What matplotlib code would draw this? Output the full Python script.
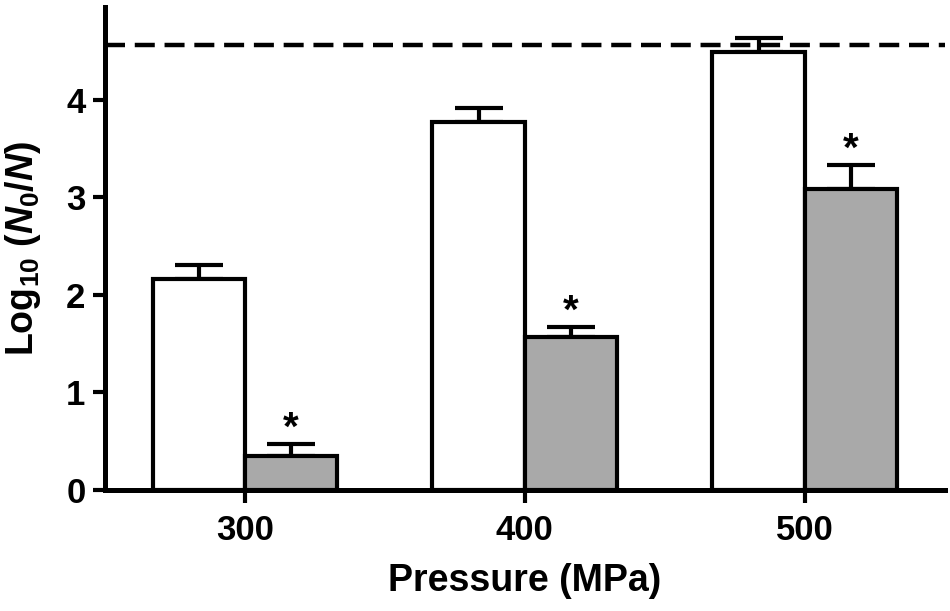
import matplotlib
matplotlib.use("Agg")
import matplotlib.pyplot as plt
import numpy as np

# data
pressures = ["300", "400", "500"]
control_vals = [2.16, 3.77, 4.485]
control_err = [0.15, 0.15, 0.145]
treated_vals = [0.35, 1.57, 3.08]
treated_err = [0.12, 0.105, 0.25]
limit_line = 4.56

plt.rcParams['font.family'] = ['Liberation Sans', 'DejaVu Sans']
plt.rcParams['font.weight'] = 'bold'
plt.rcParams['mathtext.fontset'] = 'custom'
plt.rcParams['mathtext.rm'] = 'Liberation Sans:bold'
plt.rcParams['mathtext.it'] = 'Liberation Sans:bold:italic'
plt.rcParams['mathtext.bf'] = 'Liberation Sans:bold'

fig = plt.figure(figsize=(9.5, 6.11), dpi=100)
ax = fig.add_axes([0.1105, 0.198, 0.884, 0.7905])

x = np.arange(len(pressures))
w = 0.33

ax.bar(x - w / 2, control_vals, w, color='white', edgecolor='black', linewidth=3, zorder=2)
ax.bar(x + w / 2, treated_vals, w, color='#a9a9a9', edgecolor='black', linewidth=3, zorder=2)

ax.errorbar(x - w / 2, control_vals, yerr=[np.zeros(3), control_err], fmt='none',
            ecolor='black', elinewidth=3, capsize=17, capthick=3, zorder=1)
ax.errorbar(x + w / 2, treated_vals, yerr=[np.zeros(3), treated_err], fmt='none',
            ecolor='black', elinewidth=3, capsize=17, capthick=3, zorder=1)

# significance stars
for i in range(len(x)):
    ax.text(x[i] + w / 2, treated_vals[i] + treated_err[i] + 0.04, '*',
            ha='center', va='baseline', fontsize=29, fontweight='bold')

ax.axhline(limit_line, color='black', linestyle=(0, (4.5, 2.2)), linewidth=3.2, zorder=3)

ax.set_xlim(-0.5, 2.5)
ax.set_ylim(0, 4.95)
ax.set_xticks(x)
ax.set_xticklabels(pressures)
ax.set_yticks([0, 1, 2, 3, 4])

for s in ['top', 'right']:
    ax.spines[s].set_visible(False)
for s in ['left', 'bottom']:
    ax.spines[s].set_linewidth(3.6)

ax.tick_params(axis='both', direction='out', length=9, width=3, labelsize=25, pad=5)
ax.tick_params(axis='x', pad=8)

ax.set_xlabel('Pressure (MPa)', fontsize=27, fontweight='bold', va='top')
ax.xaxis.set_label_coords(0.5, -0.151)
ax.set_ylabel(r'Log$_{10}$ ($\mathit{N}_0$/$\mathit{N}$)', fontsize=27, fontweight='bold')
ax.yaxis.set_label_coords(-0.074, 0.5)

fig.savefig('out.png', dpi=100)
